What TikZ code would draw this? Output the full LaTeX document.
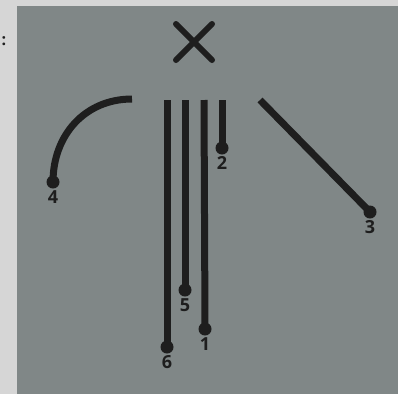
\documentclass[tikz,border=0pt]{standalone}
\usepackage{fontspec}
\setsansfont{Open Sans}
\usepackage{tikz}
\usetikzlibrary{positioning}
\definecolor{pagebg}{RGB}{214,214,214}
\definecolor{panelbg}{RGB}{128,135,135}
\definecolor{inkdark}{RGB}{30,30,30}

\begin{document}
\begin{tikzpicture}[x=1pt, y=-1pt,
        stroke/.style={draw=inkdark, line width=7pt},
        tipdot/.style={circle, fill=inkdark, minimum size=13pt, inner sep=0pt},
        num/.style={font=\sffamily\bfseries\fontsize{18}{18}\selectfont, text=inkdark, inner sep=1pt}
    ]

    \fill[pagebg] (0,0) rectangle (398,394);
    \fill[panelbg] (17,6) rectangle (398,394);
    \useasboundingbox (0,0) rectangle (398,394);

    \node[font=\sffamily\bfseries\fontsize{16}{16}\selectfont, text=inkdark, inner sep=0pt] (colon) at (4,41) {:};

    % the cross on top
    \coordinate (xa) at (176,24);
    \coordinate (xb) at (212,60);
    \coordinate (xc) at (212,24);
    \coordinate (xd) at (176,60);
    \draw[stroke, line width=6pt, line cap=round] (xa) -- (xb);
    \draw[stroke, line width=6pt, line cap=round] (xc) -- (xd);

    % start points
    \coordinate (s4) at (132,99);
    \coordinate (s6) at (167,100);
    \coordinate (s5) at (185,100);
    \coordinate (s1) at (204,100);
    \coordinate (s2) at (222,100);
    \coordinate (s3) at (260,100);

    % end dots
    \node[tipdot] (e4) at (53,182) {};
    \node[tipdot] (e6) at (167,347) {};
    \node[tipdot] (e5) at (185,290) {};
    \node[tipdot] (e1) at (205,329) {};
    \node[tipdot] (e2) at (222,148) {};
    \node[tipdot] (e3) at (370,212) {};

    \draw[stroke] (s4) to[out=180, in=90, looseness=1.05] (e4.center);
    \draw[stroke] (s6) -- (e6.center);
    \draw[stroke] (s5) -- (e5.center);
    \draw[stroke] (s1) -- (e1.center);
    \draw[stroke] (s2) -- (e2.center);
    \draw[stroke] (s3) -- (e3.center);

    \node[num, below=1pt of e4] (n4) {4};
    \node[num, below=1pt of e6] (n6) {6};
    \node[num, below=1pt of e5] (n5) {5};
    \node[num, below=1pt of e1] (n1) {1};
    \node[num, below=1pt of e2] (n2) {2};
    \node[num, below=1pt of e3] (n3) {3};

\end{tikzpicture}
\end{document}
